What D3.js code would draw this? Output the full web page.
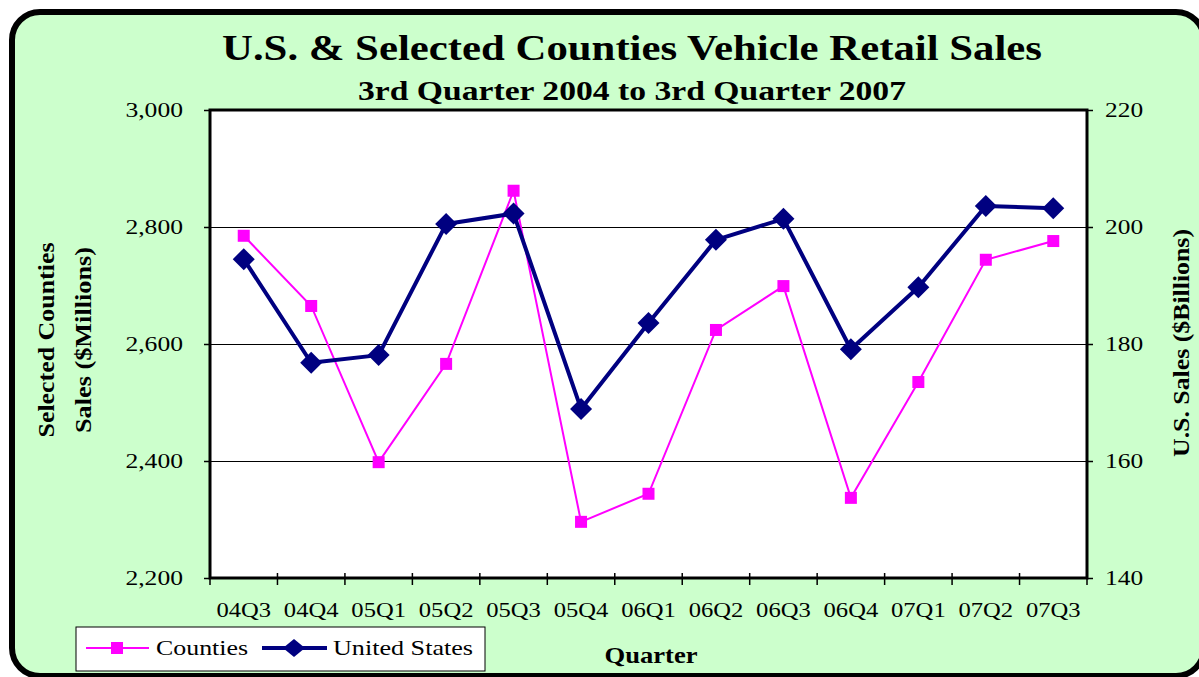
<!DOCTYPE html>
<html><head><meta charset="utf-8">
<script src="https://cdn.jsdelivr.net/npm/d3@7"></script>
<style>body{margin:0;background:#fff}svg{display:block}text{font-family:"Liberation Serif","Times New Roman",serif}</style>
</head><body>
<svg id="c" width="1199" height="677"></svg>
<script>
const quarters = ["04Q3","04Q4","05Q1","05Q2","05Q3","05Q4","06Q1","06Q2","06Q3","06Q4","07Q1","07Q2","07Q3"];
const countiesSales = [2785,2665,2398,2566,2862,2296,2344,2624,2699,2337,2535,2744,2776];
const usSales = [194.5,176.8,178.1,200.5,202.3,168.9,183.6,197.8,201.4,179.1,189.7,203.6,203.2];
const leftTicks = [2200,2400,2600,2800,3000];
const rightTicks = [140,160,180,200,220];

const svg = d3.select("#c");
function stretch(sel, f){ sel.each(function(){ const w=this.getComputedTextLength(); this.setAttribute("textLength", w*f); this.setAttribute("lengthAdjust","spacingAndGlyphs"); }); }
function fit(sel, len){ sel.attr("textLength",len).attr("lengthAdjust","spacingAndGlyphs"); }

svg.append("rect").attr("x",12).attr("y",12).attr("width",1192).attr("height",664)
  .attr("rx",28).attr("fill","#CCFFCC").attr("stroke","#000").attr("stroke-width",6);

const L=210,R=1087,T=110,B=578;
const x = d3.scaleBand().domain(quarters).range([L,R]);
const yL = d3.scaleLinear().domain([2200,3000]).range([B,T]);
const yR = d3.scaleLinear().domain([140,220]).range([B,T]);

svg.append("rect").attr("x",L).attr("y",T).attr("width",R-L).attr("height",B-T).attr("fill","#fff");
svg.append("g").selectAll("line").data([2400,2600,2800]).join("line")
  .attr("x1",L).attr("x2",R).attr("y1",d=>Math.round(yL(d))+0.5).attr("y2",d=>Math.round(yL(d))+0.5)
  .attr("stroke","#000").attr("stroke-width",1).attr("shape-rendering","crispEdges");

// titles
fit(svg.append("text").attr("x",632).attr("y",60).attr("text-anchor","middle").attr("font-size",36).attr("font-weight","bold").text("U.S. & Selected Counties Vehicle Retail Sales"),820);
fit(svg.append("text").attr("x",632).attr("y",100).attr("text-anchor","middle").attr("font-size",28).attr("font-weight","bold").text("3rd Quarter 2004 to 3rd Quarter 2007"),548);

// axes
const fmt = d3.format(",");
const gL = svg.append("g").attr("transform",`translate(${L},0)`)
  .call(d3.axisLeft(yL).tickValues(leftTicks).tickFormat(fmt).tickSize(6).tickPadding(21));
const gR = svg.append("g").attr("transform",`translate(${R},0)`)
  .call(d3.axisRight(yR).tickValues(rightTicks).tickSize(6).tickPadding(12));
const gX = svg.append("g").attr("transform",`translate(0,${B})`)
  .call(d3.axisBottom(x).tickSize(0).tickPadding(25));
[gL,gR,gX].forEach(g=>{g.select(".domain").remove();g.selectAll("text").attr("font-size",20).attr("font-family","Liberation Serif").attr("fill","#000");g.selectAll("line").attr("stroke","#000").attr("stroke-width",1.5);});
gX.selectAll("text").attr("dy","0.71em");
stretch(gL.selectAll("text"),1.28);
stretch(gR.selectAll("text"),1.27);
stretch(gX.selectAll("text"),1.23);
svg.append("g").selectAll("line").data(d3.range(quarters.length+1)).join("line")
  .attr("x1",i=>L+i*x.step()).attr("x2",i=>L+i*x.step()).attr("y1",B-5).attr("y2",B+7).attr("stroke","#000").attr("stroke-width",1.5);
svg.append("rect").attr("x",L).attr("y",T).attr("width",R-L).attr("height",B-T).attr("fill","none").attr("stroke","#000").attr("stroke-width",3);

const cx = d=>x(d)+x.bandwidth()/2;
svg.append("path").datum(countiesSales).attr("fill","none").attr("stroke","#FF00FF").attr("stroke-width",2)
  .attr("d",d3.line().x((d,i)=>cx(quarters[i])).y(d=>yL(d)));
svg.append("g").selectAll("rect").data(countiesSales).join("rect")
  .attr("x",(d,i)=>cx(quarters[i])-6).attr("y",d=>yL(d)-6).attr("width",12).attr("height",12).attr("fill","#FF00FF");
svg.append("path").datum(usSales).attr("fill","none").attr("stroke","#000080").attr("stroke-width",4).attr("stroke-linejoin","round")
  .attr("d",d3.line().x((d,i)=>cx(quarters[i])).y(d=>yR(d)));
const dia = "M0,-11L11,0L0,11L-11,0Z";
svg.append("g").selectAll("path").data(usSales).join("path")
  .attr("transform",(d,i)=>`translate(${cx(quarters[i])},${yR(d)})`).attr("d",dia).attr("fill","#000080");

// axis titles
fit(svg.append("text").attr("transform","translate(54,340) rotate(-90)").attr("text-anchor","middle").attr("font-size",24).attr("font-weight","bold").text("Selected Counties"),195);
fit(svg.append("text").attr("transform","translate(91,340) rotate(-90)").attr("text-anchor","middle").attr("font-size",24).attr("font-weight","bold").text("Sales ($Millions)"),186);
fit(svg.append("text").attr("transform","translate(1189,343) rotate(-90)").attr("text-anchor","middle").attr("font-size",24).attr("font-weight","bold").text("U.S. Sales ($Billions)"),228);
fit(svg.append("text").attr("x",651).attr("y",663).attr("text-anchor","middle").attr("font-size",24).attr("font-weight","bold").text("Quarter"),93);

// legend
const lg = svg.append("g");
lg.append("rect").attr("x",76).attr("y",627).attr("width",409).attr("height",44).attr("fill","#fff").attr("stroke","#000").attr("stroke-width",1);
lg.append("line").attr("x1",86).attr("x2",149).attr("y1",648).attr("y2",648).attr("stroke","#FF00FF").attr("stroke-width",2);
lg.append("rect").attr("x",111).attr("y",642).attr("width",12).attr("height",12).attr("fill","#FF00FF");
fit(lg.append("text").attr("x",156).attr("y",655).attr("font-size",22).text("Counties"),92);
lg.append("line").attr("x1",262).attr("x2",327).attr("y1",648).attr("y2",648).attr("stroke","#000080").attr("stroke-width",4);
lg.append("path").attr("transform","translate(294,648)").attr("d","M0,-9L11,0L0,9L-11,0Z").attr("fill","#000080");
fit(lg.append("text").attr("x",333).attr("y",655).attr("font-size",22).text("United States"),140);
</script>
</body></html>
